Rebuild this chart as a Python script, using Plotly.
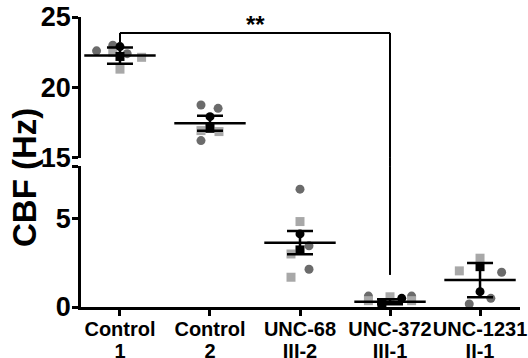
import plotly.graph_objects as go

categories = ["Control", "Control", "UNC-68", "UNC-372", "UNC-1231"]
subcategories = ["1", "2", "III-2", "III-1", "II-1"]
upper_groups = [0, 1]          # plotted on the upper (15-25 Hz) segment
lower_groups = [2, 3, 4]       # plotted on the lower (0-8 Hz) segment

# individual measurements (Hz) and horizontal jitter (category units)
grey_circle_vals = [[22.6, 23.0, 22.4], [18.76, 18.52, 16.23], [6.69, 3.47, 2.14], [0.62, 0.62], [1.97, 0.49, 0.17]]
grey_circle_jit = [[-0.26, -0.08, 0.08], [-0.1, 0.09, -0.1], [0.0, 0.1, 0.1], [-0.24, 0.24], [0.24, 0.12, -0.12]]
light_square_vals = [[22.14, 21.3, 22.5], [16.94, 16.87], [4.85, 3.01, 1.69], [0.36, 0.58, 0.36], [2.77, 2.05]]
light_square_jit = [[0.24, 0.0, -0.08], [-0.1, 0.1], [0.0, -0.1, -0.1], [-0.24, 0.0, 0.24], [0.0, -0.23]]
black_circle_vals = [22.9, 17.93, 4.15, 0.49, 0.87]
black_circle_jit = [0.0, 0.0, 0.0, 0.13, 0.0]
black_square_vals = [22.2, 17.1, 3.24, 0.24, 2.29]
black_square_jit = [0.0, 0.0, 0.0, -0.09, 0.0]
means = [22.26, 17.46, 3.65, 0.30, 1.53]
sems = [0.57, 0.53, 0.66, 0.14, 0.97]

# significance bracket
sig_from, sig_to = 0, 3
sig_text = "**"
sig_level = 23.87
sig_left_end = 23.2
sig_right_end = 1.82

DARK = "#6b6b6b"
LIGHT = "#a8a8a8"
FONT = "Liberation Sans"
fig = go.Figure()


def add_group_traces(groups, yref):
    for vals, jit, sym, col, size in [
        (grey_circle_vals, grey_circle_jit, "circle", DARK, 9),
        (light_square_vals, light_square_jit, "square", LIGHT, 9),
    ]:
        xs, ys = [], []
        for g in groups:
            xs += [g + j for j in jit[g]]
            ys += vals[g]
        fig.add_trace(go.Scatter(x=xs, y=ys, mode="markers", yaxis=yref, cliponaxis=False,
                                 marker=dict(symbol=sym, color=col, size=size), showlegend=False))
    for vals, jit, sym in [(black_circle_vals, black_circle_jit, "circle"),
                           (black_square_vals, black_square_jit, "square")]:
        fig.add_trace(go.Scatter(x=[g + jit[g] for g in groups], y=[vals[g] for g in groups],
                                 mode="markers", yaxis=yref, cliponaxis=False,
                                 marker=dict(symbol=sym, color="black", size=9), showlegend=False))
    fig.add_trace(go.Scatter(x=list(groups), y=[means[g] for g in groups], mode="markers", yaxis=yref,
                             cliponaxis=False,
                             marker=dict(symbol="line-ew", size=51, line=dict(color="black", width=2.5)),
                             error_y=dict(type="data", array=[sems[g] for g in groups], visible=True,
                                          color="black", thickness=2.5, width=13),
                             showlegend=False))


add_group_traces(upper_groups, "y2")
add_group_traces(lower_groups, "y")

LOWER_DOM = [0, 0.486]
UPPER_DOM = [0.514, 1]

line = dict(color="black", width=2)
fig.add_shape(type="line", xref="x", yref="y2", x0=sig_from, x1=sig_to, y0=sig_level, y1=sig_level, line=line)
fig.add_shape(type="line", xref="x", yref="y2", x0=sig_from, x1=sig_from, y0=sig_level, y1=sig_left_end, line=line)
fig.add_shape(type="line", xref="x", yref="y2", x0=sig_to, x1=sig_to, y0=sig_level, y1=15, line=line)
fig.add_shape(type="line", xref="x", yref="paper", x0=sig_to, x1=sig_to, y0=LOWER_DOM[1], y1=UPPER_DOM[0], line=line)
fig.add_shape(type="line", xref="x", yref="y", x0=sig_to, x1=sig_to, y0=8, y1=sig_right_end, line=line)
fig.add_annotation(x=(sig_from + sig_to) / 2, y=sig_level, xref="x", yref="y2", text=sig_text,
                   showarrow=False, yanchor="bottom", yshift=-7,
                   font=dict(family=FONT, size=24, color="black", weight="bold"))

fig.add_annotation(text="CBF (Hz)", xref="paper", yref="paper", x=0, y=0.5, xshift=-57, yshift=-16,
                   textangle=-90, showarrow=False, xanchor="center", yanchor="middle",
                   font=dict(family=FONT, size=33, color="black", weight="bold"))

axis_common = dict(showline=True, linewidth=2.5, linecolor="black", ticks="outside", ticklen=6,
                   tickwidth=2.5, tickcolor="black", showgrid=False, zeroline=False, automargin=False,
                   ticklabelstandoff=-4,
                   tickfont=dict(family=FONT, size=27, color="black", weight="bold"))

span = "<span style='font-size:20px'>{}</span>"
tick_text = [span.format(c) + "<br>" + span.format(s) for c, s in zip(categories, subcategories)]

fig.update_layout(
    width=528, height=358,
    margin=dict(l=81, r=8, t=17, b=51),
    paper_bgcolor="white", plot_bgcolor="white",
    xaxis=dict(range=[-0.433, 4.444], tickvals=list(range(len(categories))), ticktext=tick_text,
               anchor="y", showline=True, linewidth=2.5, linecolor="black", ticks="outside",
               ticklen=6, tickwidth=2.5, tickcolor="black", showgrid=False, zeroline=False,
               automargin=False, tickangle=0,
               tickfont=dict(family=FONT, size=17, color="black", weight="bold")),
    yaxis=dict(domain=LOWER_DOM, range=[0, 8], tickvals=[0, 5, 8], ticktext=["0", "5", ""], anchor="x",
               **axis_common),
    yaxis2=dict(domain=UPPER_DOM, range=[15, 25], tickvals=[15, 20, 25], ticktext=["15", "20", "25"],
                anchor="x", **axis_common),
)

fig.write_html("out.html", config={"displayModeBar": False},
               post_script="document.body.style.margin='0';document.body.style.overflow='hidden';")
